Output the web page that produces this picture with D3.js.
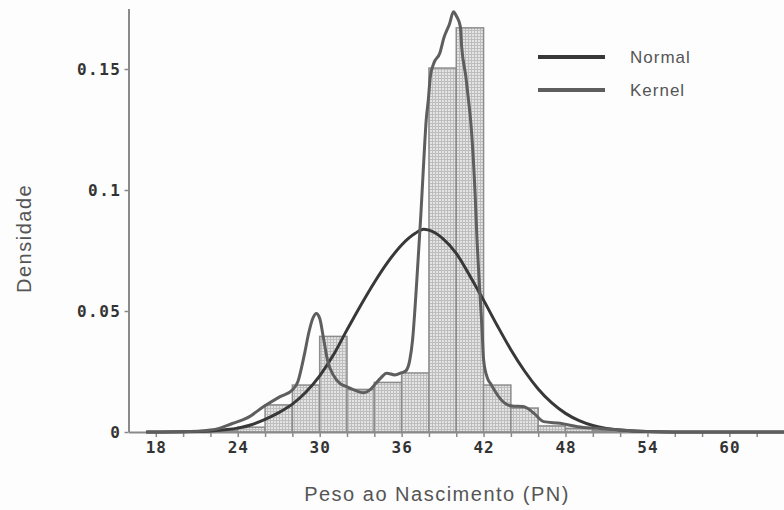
<!DOCTYPE html>
<html>
<head>
<meta charset="utf-8">
<script src="https://cdn.jsdelivr.net/npm/d3@7"></script>
<style>
  body { margin: 0; background: #fdfdfd; }
  svg { display: block; }
</style>
</head>
<body>
<div id="chart"></div>
<script>
// histogramme : debut de classe (largeur 2) et densite
const binStarts = [22, 24, 26, 28, 30, 32, 34, 36, 38, 40, 42, 44, 46, 48, 50];
const binDensity = [0.0005, 0.002, 0.0112, 0.0194, 0.0395, 0.0176, 0.0205, 0.0244, 0.1504, 0.167, 0.0194, 0.0099, 0.0025, 0.0015, 0.0006];

// courbe normale
const normalX = [17.3, 20, 22, 23, 24, 25, 26, 27, 28, 29, 30, 31, 32, 33, 34, 35, 36, 37, 37.6, 38, 39, 40, 41, 42, 43, 44, 45, 46, 47, 48, 49, 50, 51, 52, 53, 54, 56, 64];
const normalY = [0, 0.0001, 0.0004, 0.0009, 0.0016, 0.003, 0.0052, 0.008, 0.0115, 0.0165, 0.0232, 0.0318, 0.0422, 0.0523, 0.0618, 0.0703, 0.0773, 0.0821, 0.0838, 0.0834, 0.08, 0.0738, 0.0645, 0.0545, 0.044, 0.034, 0.0252, 0.0178, 0.012, 0.0077, 0.0047, 0.0027, 0.0015, 0.0008, 0.0004, 0.0002, 0, 0];

// courbe kernel
const kernelX = [17.3, 20, 22, 22.7, 23.6, 24.65, 25.9, 27.1, 28, 28.4, 28.9, 29.2, 29.5, 29.75, 30, 30.3, 30.6, 31, 31.5, 32, 32.6, 33.2, 33.7, 34.1, 34.5, 34.9, 35.5, 36, 36.3, 36.6, 36.8, 37.1, 37.4, 37.5, 37.7, 37.8, 37.95, 38.1, 38.35, 38.8, 39.1, 39.5, 39.8, 40, 40.3, 40.4, 40.7, 40.9, 41.05, 41.4, 41.5, 41.9, 42, 42.3, 42.5, 43, 43.2, 44.1, 44.9, 45.7, 46.4, 47.6, 48.9, 50.3, 52, 54, 56, 64];
const kernelY = [0, 0.0001, 0.0008, 0.0016, 0.0035, 0.0057, 0.0105, 0.0146, 0.0174, 0.0208, 0.0326, 0.041, 0.047, 0.049, 0.047, 0.038, 0.029, 0.0235, 0.02, 0.0187, 0.0172, 0.0162, 0.0175, 0.02, 0.0225, 0.0243, 0.0236, 0.0245, 0.0252, 0.0298, 0.038, 0.0615, 0.089, 0.0993, 0.12, 0.129, 0.137, 0.1468, 0.1523, 0.1566, 0.163, 0.1685, 0.1737, 0.172, 0.1675, 0.159, 0.147, 0.137, 0.129, 0.0959, 0.0822, 0.041, 0.03, 0.022, 0.0201, 0.0155, 0.0139, 0.0107, 0.0105, 0.0077, 0.0043, 0.0036, 0.0022, 0.0015, 0.0008, 0.0002, 0, 0];

const xTicks = [18, 24, 30, 36, 42, 48, 54, 60];
const yTicks = [0, 0.05, 0.1, 0.15];
const legendLabels = ["Normal", "Kernel"];

const W = 784, H = 510;
const binWidth = 2;

const svg = d3.select("#chart").append("svg")
    .attr("width", W)
    .attr("height", H);

// Echelles
const x = d3.scaleLinear().domain([16, 64]).range([128.5, 784]);
const y = d3.scaleLinear().domain([0, 0.175]).range([432, 8.5]);

// motif de trame des barres
const pat = svg.append("defs").append("pattern")
    .attr("id", "trame")
    .attr("width", 3).attr("height", 3)
    .attr("patternUnits", "userSpaceOnUse");
pat.append("rect").attr("width", 3).attr("height", 3).attr("fill", "#e4e4e4");
pat.append("path").attr("d", "M0,0.5H3M0.5,0V3")
    .attr("stroke", "#bdbdbd").attr("stroke-width", 1);

// Barres
const bins = binStarts.map((b, i) => ({x0: b, x1: b + binWidth, d: binDensity[i]}));
svg.append("g").selectAll("rect")
    .data(bins)
    .join("rect")
    .attr("x", d => x(d.x0))
    .attr("y", d => y(d.d))
    .attr("width", d => x(d.x1) - x(d.x0))
    .attr("height", d => y(0) - y(d.d))
    .attr("fill", "url(#trame)")
    .attr("stroke", "#8c8c8c")
    .attr("stroke-width", 1.5);

// Axes
const axisColor = "#8a8a8a";
const tickFont = "'DejaVu Sans Mono', monospace";

const xAxis = svg.append("g")
    .attr("transform", `translate(0,${y(0)})`)
    .call(d3.axisBottom(x).tickValues(d3.range(18, 64, 2)).tickSize(5).tickSizeOuter(0).tickFormat(d => xTicks.includes(d) ? d : ""));
xAxis.select(".domain").attr("stroke", axisColor).attr("stroke-width", 2);
xAxis.selectAll(".tick line").attr("stroke", axisColor).attr("stroke-width", 1.5);
xAxis.selectAll("text")
    .attr("y", 10)
    .style("font-family", tickFont)
    .style("font-weight", "bold")
    .style("font-size", "16px")
    .style("letter-spacing", "1px")
    .style("fill", "#333");

const yAxis = svg.append("g")
    .attr("transform", `translate(${x(16)},0)`)
    .call(d3.axisLeft(y).tickValues(yTicks).tickSize(4).tickSizeOuter(0).tickFormat(d3.format("")));
yAxis.select(".domain").attr("stroke", axisColor).attr("stroke-width", 2);
yAxis.selectAll(".tick line").attr("stroke", axisColor).attr("stroke-width", 1.5);
yAxis.selectAll("text")
    .attr("x", -7)
    .style("font-family", tickFont)
    .style("font-weight", "bold")
    .style("font-size", "16px")
    .style("letter-spacing", "1.5px")
    .style("fill", "#333");

// Courbes
const line = d3.line()
    .x(d => x(d[0]))
    .y(d => y(d[1]))
    .curve(d3.curveMonotoneX);

const colNormal = "#383838", colKernel = "#5e5e5e";

svg.append("path")
    .datum(normalX.map((v, i) => [v, normalY[i]]))
    .attr("d", line)
    .attr("fill", "none")
    .attr("stroke", colNormal)
    .attr("stroke-width", 3);

svg.append("path")
    .datum(kernelX.map((v, i) => [v, kernelY[i]]))
    .attr("d", line)
    .attr("fill", "none")
    .attr("stroke", colKernel)
    .attr("stroke-width", 3);

// Legende
const legend = svg.append("g").attr("transform", "translate(538, 57)");
legendLabels.forEach((lab, i) => {
    const lg = legend.append("g").attr("transform", `translate(0, ${i * 33})`);
    lg.append("line").attr("x1", 0).attr("x2", 67)
        .attr("stroke", i === 0 ? colNormal : colKernel)
        .attr("stroke-width", 4);
    lg.append("text").attr("x", 92).attr("y", 0)
        .attr("dy", "0.35em")
        .style("font-family", "'Liberation Sans', Arial, sans-serif")
        .style("font-size", "17px")
        .style("letter-spacing", "1px")
        .style("fill", "#555")
        .text(lab);
});

// Titres des axes
svg.append("text")
    .attr("transform", `translate(24, ${y(0.08)}) rotate(-90)`)
    .attr("text-anchor", "middle")
    .attr("dy", "0.35em")
    .style("font-family", "'Liberation Sans', Arial, sans-serif")
    .style("font-size", "20px")
    .style("letter-spacing", "1.5px")
    .style("fill", "#555")
    .text("Densidade");

svg.append("text")
    .attr("x", 437)
    .attr("y", 494)
    .attr("text-anchor", "middle")
    .attr("dy", "0.35em")
    .style("font-family", "'Liberation Sans', Arial, sans-serif")
    .style("font-size", "20px")
    .style("letter-spacing", "1.5px")
    .style("fill", "#555")
    .text("Peso ao Nascimento (PN)");
</script>
</body>
</html>
